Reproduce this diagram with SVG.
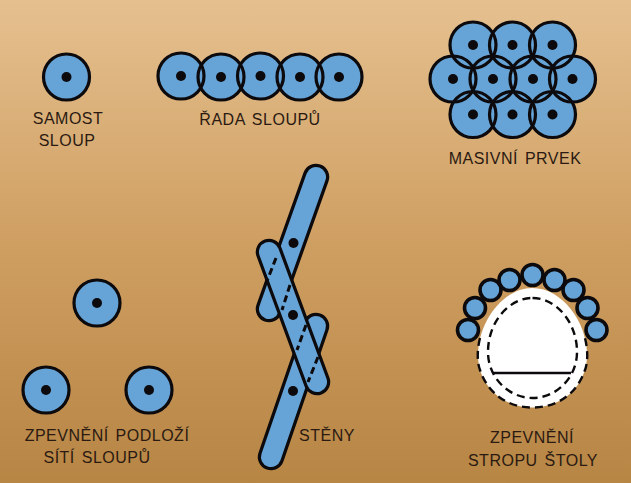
<svg xmlns="http://www.w3.org/2000/svg" width="631" height="483" viewBox="0 0 631 483">
<style>
.f{fill:#66a3d6}
.s{fill:none;stroke:#0c0a0c;stroke-width:3.2}
.c{fill:#66a3d6;stroke:#0c0a0c;stroke-width:3.2}
.c2{fill:#66a3d6;stroke:#0c0a0c;stroke-width:3.6}
.d{fill:#0c0a0c}
.wo{stroke:#0c0a0c;stroke-width:26.500;stroke-linecap:round}
.wi{stroke:#66a3d6;stroke-width:20;stroke-linecap:round}
.da{fill:none;stroke:#0c0a0c;stroke-width:3;stroke-dasharray:7 4}
.t{font-family:"Liberation Sans",Arial,sans-serif;font-size:16px;letter-spacing:.5px;word-spacing:2px;fill:#2a1a12;text-anchor:middle}
</style>
<defs>
<linearGradient id="bg" x1="0" y1="0" x2="0" y2="1"><stop offset="0" stop-color="#e5c08f"/><stop offset="0.5" stop-color="#cf9f62"/><stop offset="1" stop-color="#b78544"/></linearGradient>
<circle id="cf" r="23" class="f"/>
<circle id="cs" r="23" class="s"/>
<circle id="dot" r="5" class="d"/>
</defs>
<rect width="631" height="483" fill="url(#bg)"/>
<g id="samost-sloup">
<circle cx="66.500" cy="77" r="23" class="c"/><use href="#dot" x="66.500" y="77"/>
<text class="t" x="68" y="124">SAMOST</text><text class="t" x="67" y="146">SLOUP</text>
</g>
<g id="rada-sloupu">
<use href="#cf" x="181" y="76"/><use href="#cf" x="221" y="77"/><use href="#cf" x="260.500" y="76"/><use href="#cf" x="300" y="77"/><use href="#cf" x="339" y="77"/>
<use href="#cs" x="181" y="76"/><use href="#cs" x="221" y="77"/><use href="#cs" x="260.500" y="76"/><use href="#cs" x="300" y="77"/><use href="#cs" x="339" y="77"/>
<use href="#dot" x="181" y="76"/><use href="#dot" x="221" y="77"/><use href="#dot" x="260.500" y="76"/><use href="#dot" x="300" y="77"/><use href="#dot" x="339" y="77"/>
<text class="t" x="260" y="125">ŘADA SLOUPŮ</text>
</g>
<g id="masivni-prvek">
<use href="#cf" x="473" y="45"/><use href="#cf" x="512.500" y="45"/><use href="#cf" x="552.500" y="45"/><use href="#cf" x="453" y="79"/><use href="#cf" x="493" y="79"/><use href="#cf" x="533" y="79"/><use href="#cf" x="572.500" y="79"/><use href="#cf" x="473" y="114.500"/><use href="#cf" x="512.500" y="114.500"/><use href="#cf" x="552.500" y="114.500"/>
<use href="#cs" x="473" y="45"/><use href="#cs" x="512.500" y="45"/><use href="#cs" x="552.500" y="45"/><use href="#cs" x="453" y="79"/><use href="#cs" x="493" y="79"/><use href="#cs" x="533" y="79"/><use href="#cs" x="572.500" y="79"/><use href="#cs" x="473" y="114.500"/><use href="#cs" x="512.500" y="114.500"/><use href="#cs" x="552.500" y="114.500"/>
<use href="#dot" x="473" y="45"/><use href="#dot" x="512.500" y="45"/><use href="#dot" x="552.500" y="45"/><use href="#dot" x="453" y="79"/><use href="#dot" x="493" y="79"/><use href="#dot" x="533" y="79"/><use href="#dot" x="572.500" y="79"/><use href="#dot" x="473" y="114.500"/><use href="#dot" x="512.500" y="114.500"/><use href="#dot" x="552.500" y="114.500"/>
<text class="t" x="515" y="164">MASIVNÍ PRVEK</text>
</g>
<g id="zpevneni-podlozi">
<circle cx="97" cy="303" r="23" class="c"/><use href="#dot" x="97" y="303"/>
<circle cx="46" cy="390" r="23" class="c"/><use href="#dot" x="46" y="390"/>
<circle cx="149" cy="390" r="23" class="c"/><use href="#dot" x="149" y="390"/>
<text class="t" x="107" y="441">ZPEVNĚNÍ PODLOŽÍ</text><text class="t" x="97" y="463">SÍTÍ SLOUPŮ</text>
</g>
<g id="steny">
<line class="wo" x1="316" y1="177" x2="269" y2="309"/>
<line class="wi" x1="316" y1="177" x2="269" y2="309"/>
<line class="wo" x1="271" y1="457" x2="316" y2="326"/>
<line class="wi" x1="271" y1="457" x2="316" y2="326"/>
<line class="wo" x1="269" y1="252" x2="317" y2="382"/>
<line class="wi" x1="269" y1="252" x2="317" y2="382"/>
<line class="da" x1="276" y1="258" x2="267" y2="281"/>
<line class="da" x1="290" y1="285" x2="282" y2="310"/>
<line class="da" x1="306" y1="325" x2="297" y2="350"/>
<line class="da" x1="318" y1="357" x2="308" y2="382"/>
<use href="#dot" x="293.500" y="243"/><use href="#dot" x="293" y="315"/><use href="#dot" x="293" y="391"/>
<text class="t" x="327" y="441">STĚNY</text>
</g>
<g id="zpevneni-stropu">
<path d="M532.500 288C562 288 587 322 587 355C587 386 562 407.500 532.500 407.500C503 407.500 478 386 478 355C478 322 503 288 532.500 288Z" fill="#fff"/>
<path d="M480 338C477 350 477 362 480 370C488 394 508 407.500 532.500 407.500C557 407.500 577 394 585 370C588 362 588 350 585 338" fill="none" stroke="#0c0a0c" stroke-width="2.400" stroke-dasharray="8 5"/>
<path d="M532.500 298C556 298 577 322 577 352C577 378 556 398 532.500 398C509 398 488 378 488 352C488 322 509 298 532.500 298Z" fill="none" stroke="#0c0a0c" stroke-width="2.400" stroke-dasharray="8 5"/>
<line x1="493" y1="373" x2="571" y2="373" stroke="#0c0a0c" stroke-width="2.400"/>
<g class="c2"><circle cx="468" cy="330" r="10.500"/><circle cx="475" cy="308" r="10.500"/><circle cx="490.500" cy="290" r="10.500"/><circle cx="509.500" cy="280" r="10.500"/><circle cx="532.500" cy="275" r="10.500"/><circle cx="554.500" cy="280" r="10.500"/><circle cx="573.500" cy="290" r="10.500"/><circle cx="587.500" cy="308" r="10.500"/><circle cx="596.500" cy="330" r="10.500"/></g>
<text class="t" x="532" y="443">ZPEVNĚNÍ</text><text class="t" x="533" y="466">STROPU ŠTOLY</text>
</g>
</svg>
